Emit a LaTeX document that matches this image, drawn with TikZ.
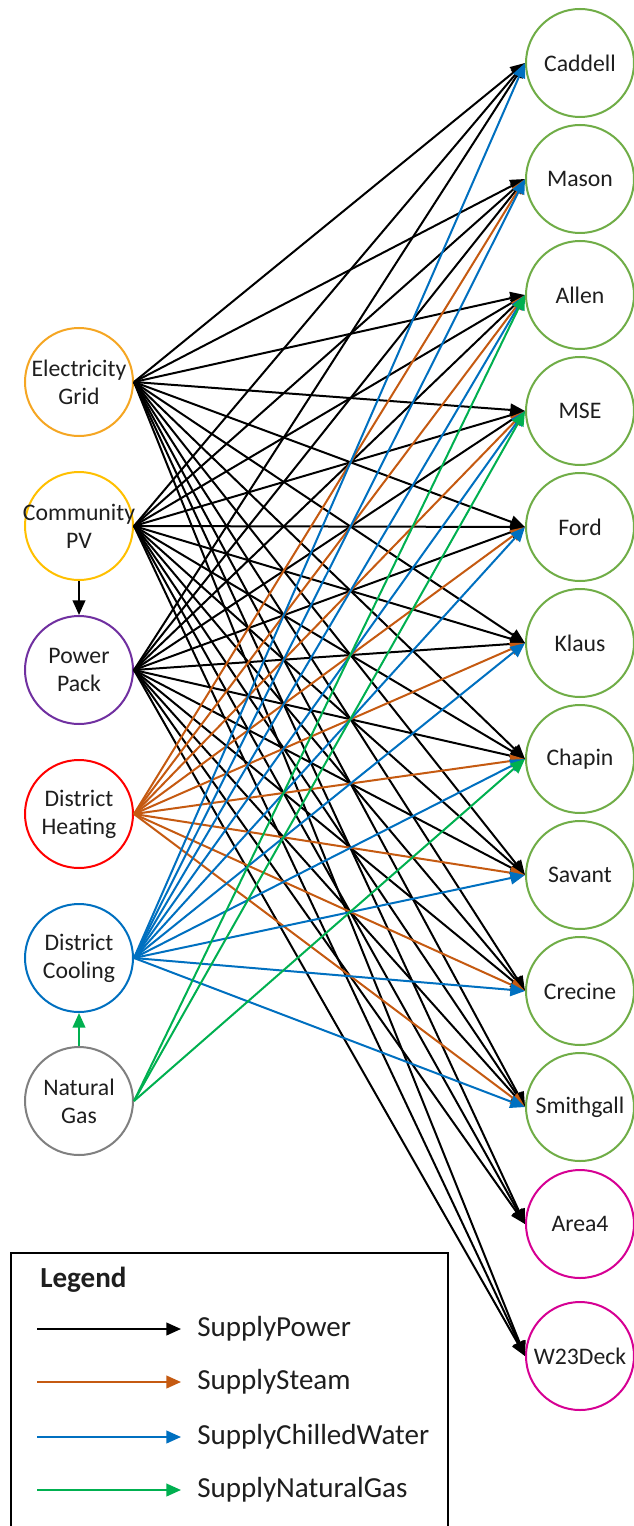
\documentclass[tikz,border=0pt]{standalone}
\usepackage{fontspec}
\setmainfont{Carlito}
\usetikzlibrary{arrows.meta}
\definecolor{gridorange}{RGB}{245,166,35}
\definecolor{pvgold}{RGB}{255,192,0}
\definecolor{packpurple}{RGB}{112,48,160}
\definecolor{heatred}{RGB}{255,0,0}
\definecolor{coolblue}{RGB}{0,112,192}
\definecolor{gasgray}{RGB}{128,128,128}
\definecolor{bldgreen}{RGB}{112,173,71}
\definecolor{bldmagenta}{RGB}{214,0,147}
\definecolor{steamorange}{RGB}{197,90,17}
\definecolor{gasgreen}{RGB}{0,176,80}
\definecolor{inktext}{RGB}{30,30,30}
\begin{document}
\begin{tikzpicture}[x=0.75pt,y=-0.75pt,
  ring/.style={circle,draw=#1,line width=1.5pt,minimum size=81pt,inner sep=0pt,fill=white},
  nodetext/.style={align=center,font=\fontsize{17.8}{21}\selectfont,text=inktext},
  flow/.style={line width=1.5pt,draw=#1,-{Triangle[length=11pt,width=9.5pt]},fill=#1},
  power/.style={flow=black},
  steam/.style={flow=steamorange},
  chilled/.style={flow=coolblue},
  gas/.style={flow=gasgreen},
  legtext/.style={font=\fontsize{21.8}{26}\selectfont,text=inktext,anchor=west,inner sep=0pt}]
\clip (0,0) rectangle (634,1526);
\fill[white] (0,0) rectangle (634,1526);

% supply side
\node[ring=gridorange,label={[nodetext]center:Electricity\\Grid}] (eg) at (79,382) {};
\node[ring=pvgold,label={[nodetext]center:Community\\PV}] (cpv) at (79,526) {};
\node[ring=packpurple,label={[nodetext]center:Power\\Pack}] (pp) at (79,670) {};
\node[ring=heatred,label={[nodetext]center:District\\Heating}] (dh) at (79,814) {};
\node[ring=coolblue,label={[nodetext]center:District\\Cooling}] (dc) at (79,958) {};
\node[ring=gasgray,label={[nodetext]center:Natural\\Gas}] (ng) at (79,1101) {};

% buildings
\foreach \n/\t/\y in {caddell/Caddell/63, mason/Mason/179, allen/Allen/295, mse/MSE/411,
  ford/Ford/527, klaus/Klaus/643, chapin/Chapin/759, savant/Savant/875,
  crecine/Crecine/991, smithgall/Smithgall/1107}
  \node[ring=bldgreen,label={[nodetext]center:\t}] (\n) at (580,\y) {};
\node[ring=bldmagenta,label={[nodetext]center:Area4}] (area4) at (580,1224) {};
\node[ring=bldmagenta,label={[nodetext]center:W23Deck}] (w23deck) at (580,1356) {};

% power supply from the three electric sources
\foreach \s in {eg,cpv,pp}
  \foreach \t in {caddell,mason,allen,mse,ford,klaus,chapin,savant,crecine,smithgall,area4,w23deck}
    \draw[power] (\s.east) -- (\t.west);
\draw[power] (cpv.south) -- (pp.north);

% steam
\foreach \t in {mason,allen,mse,ford,klaus,chapin,savant,crecine,smithgall}
  \draw[steam] (dh.east) -- (\t.west);

% chilled water
\foreach \t in {caddell,mason,allen,mse,ford,klaus,chapin,savant,crecine,smithgall}
  \draw[chilled] (dc.east) -- (\t.west);

% natural gas
\foreach \t in {allen,mse,chapin}
  \draw[gas] (ng.east) -- (\t.west);
\draw[gas] (ng.north) -- (dc.south);

% legend
\draw[line width=1.5pt] (11,1540) -- (11,1253) -- (448,1253) -- (448,1540);
\node[legtext,font=\fontsize{21.8}{26}\selectfont\bfseries] (legtitle) at (40,1280) {Legend};
\foreach \k/\st/\txt/\y in {a/power/SupplyPower/1329, b/steam/SupplySteam/1382,
  c/chilled/SupplyChilledWater/1437, d/gas/SupplyNaturalGas/1490} {
  \coordinate (l\k0) at (37,\y);
  \coordinate (l\k1) at (181,\y);
  \draw[\st] (l\k0) -- (l\k1);
  \node[legtext] (l\k txt) at (197,\y) {\txt};
}
\end{tikzpicture}
\end{document}
